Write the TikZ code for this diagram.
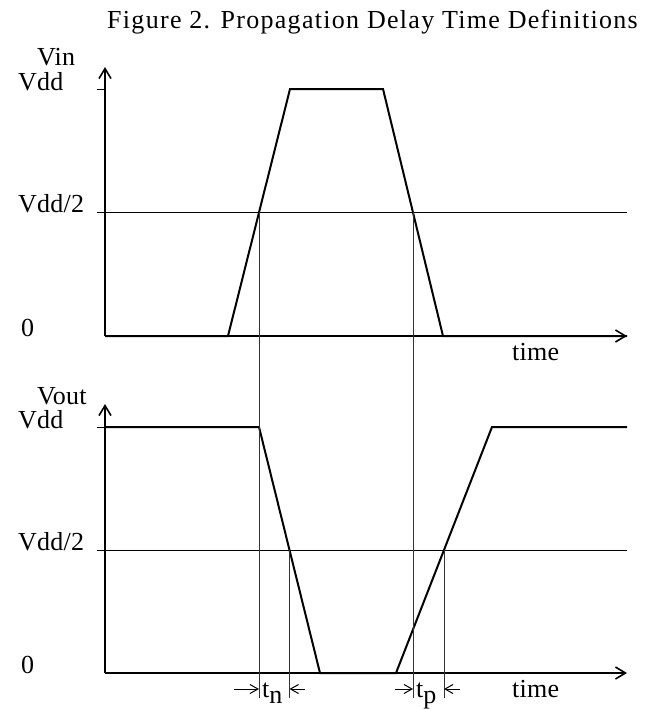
\documentclass[tikz,border=0pt]{standalone}
\usepackage{fontspec}
\setmainfont{Liberation Serif}
\newfontfamily\titlefont[LetterSpace=5]{Liberation Serif}
\newfontfamily\labelfont[LetterSpace=1]{Liberation Serif}
\usetikzlibrary{arrows.meta}
\begin{document}
\begin{tikzpicture}[x=1pt,y=-1pt,
  lbl/.style={anchor=base west,inner sep=0pt,font=\labelfont\fontsize{26}{30}\selectfont},
  ttl/.style={anchor=base west,inner sep=0pt,font=\titlefont\fontsize{26}{30}\selectfont},
  wave/.style={line width=2pt,line join=miter},
  axis/.style={line width=1.8pt,-{Straight Barb[length=10pt,width=12pt,line width=1.6pt]}},
  guide/.style={line width=1pt},
  proj/.style={line width=1pt,black!80},
  meas/.style={line width=1pt,-{Straight Barb[length=8pt,width=9pt,line width=1pt]}}]
\useasboundingbox (0,0) rectangle (645,710);

% title
\node[ttl] (title) at (107,28) {Figure 2. Propagation Delay Time Definitions};

% ---------- top chart ----------
\coordinate (o1) at (105,336);
\coordinate (y1) at (105,67);
\coordinate (x1) at (627,336);
\coordinate (t1a) at (97,89);
\coordinate (t1b) at (105,89);
\coordinate (h1a) at (97,212);
\coordinate (h1b) at (627,212);
\coordinate (a1) at (228,336);
\coordinate (a2) at (290,89);
\coordinate (a3) at (383,89);
\coordinate (a4) at (443,336);
\coordinate (c1) at (259,212);
\coordinate (c2) at (413,212);

\node[lbl] (vin) at (37,65) {Vin};
\node[lbl] (vdd1) at (18,90) {Vdd};
\node[lbl] (vh1) at (18,212) {Vdd/2};
\node[lbl] (z1) at (21,336) {0};
\node[lbl] (time1) at (512,360) {time};

\draw[guide] (t1a) -- (t1b);
\draw[guide] (h1a) -- (h1b);
\draw[wave] (o1) -- (a1) -- (a2) -- (a3) -- (a4) -- (x1);
\draw[axis] (o1) -- (y1);
\draw[axis] (o1) -- (x1);

% ---------- bottom chart ----------
\coordinate (o2) at (105,673);
\coordinate (y2) at (105,404);
\coordinate (x2) at (627,673);
\coordinate (t2a) at (97,427);
\coordinate (h2a) at (97,550);
\coordinate (h2b) at (627,550);
\coordinate (b0) at (105,427);
\coordinate (b1) at (259,427);
\coordinate (b2) at (320,673);
\coordinate (b3) at (396,673);
\coordinate (b4) at (492,427);
\coordinate (b5) at (627,427);
\coordinate (c3) at (289.5,550);
\coordinate (c4) at (444,550);

\node[lbl] (vout) at (37,404) {Vout};
\node[lbl] (vdd2) at (18,428) {Vdd};
\node[lbl] (vh2) at (18,550) {Vdd/2};
\node[lbl] (z2) at (21,673) {0};
\node[lbl] (time2) at (512,697) {time};

\draw[guide] (t2a) -- (b0);
\draw[guide] (h2a) -- (h2b);
\draw[wave] (b0) -- (b1) -- (b2) -- (b3) -- (b4) -- (b5);
\draw[axis] (o2) -- (y2);
\draw[axis] (o2) -- (x2);

% ---------- projection lines ----------
\coordinate (d1) at (259,698);
\coordinate (d2) at (413,698);
\coordinate (d3) at (289.5,698);
\coordinate (d4) at (444,698);
\draw[proj] (c1) -- (d1);
\draw[proj] (c2) -- (d2);
\draw[proj] (c3) -- (d3);
\draw[proj] (c4) -- (d4);

% ---------- delay markers ----------
\coordinate (m1s) at (234,689);
\coordinate (m1e) at (259,689);
\coordinate (m2s) at (305,689);
\coordinate (m2e) at (289.5,689);
\coordinate (m3s) at (395,689);
\coordinate (m3e) at (413,689);
\coordinate (m4s) at (460,689);
\coordinate (m4e) at (444,689);
\draw[meas] (m1s) -- (m1e);
\draw[meas] (m2s) -- (m2e);
\draw[meas] (m3s) -- (m3e);
\draw[meas] (m4s) -- (m4e);

\node[lbl] (tn) at (262,697) {t\raisebox{-6pt}{n}};
\node[lbl] (tp) at (416,697) {t\raisebox{-6pt}{p}};
\end{tikzpicture}
\end{document}
